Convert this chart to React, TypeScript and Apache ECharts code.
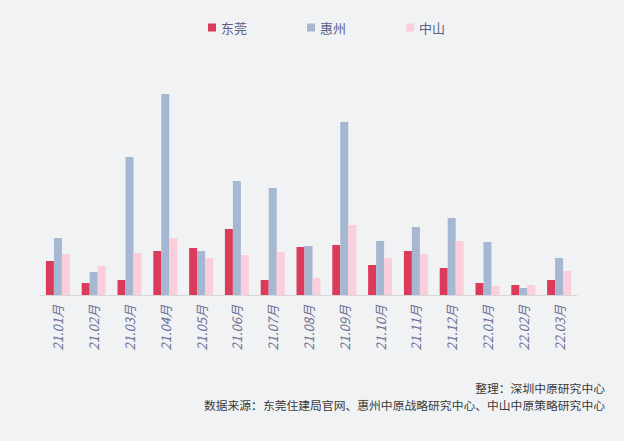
import React, { useEffect, useRef } from "react";
import * as echarts from "echarts";

const categories = ["21.01月", "21.02月", "21.03月", "21.04月", "21.05月", "21.06月", "21.07月", "21.08月", "21.09月", "21.10月", "21.11月", "21.12月", "22.01月", "22.02月", "22.03月"];
const dongguan = [34, 12, 15, 44, 47, 66, 15, 48, 50, 30, 44, 27, 12, 10, 15];
const huizhou = [57, 23, 138, 201, 44, 114, 107, 49, 173, 54, 68, 77, 53, 7, 37];
const zhongshan = [41, 29, 42, 57, 37, 40, 43, 17, 70, 37, 41, 54, 9, 10, 24];
const seriesNames = ["东莞", "惠州", "中山"];
const colors = ["#dc3a5b", "#a6b7d1", "#fbcedc"];
const noteLine1 = "整理：深圳中原研究中心";
const noteLine2 = "数据来源：东莞住建局官网、惠州中原战略研究中心、中山中原策略研究中心";

export default function App() {
  const ref = useRef<HTMLDivElement>(null);
  useEffect(() => {
    if (!ref.current) return;
    const chart = echarts.init(ref.current, null, { renderer: "svg" });
    const data = [dongguan, huizhou, zhongshan];
    chart.setOption({
      animation: false,
      backgroundColor: "#f0f2f4",
      textStyle: { fontFamily: "'Noto Sans CJK SC', 'Noto Sans', sans-serif" },
      legend: {
        top: 16,
        left: 203,
        itemWidth: 8,
        itemHeight: 8,
        itemGap: 60,
        icon: "rect",
        textStyle: { color: "#5d5f86", fontSize: 13 },
        data: seriesNames,
      },
      grid: { left: 40, right: 47, top: 85, bottom: 146, containLabel: false },
      xAxis: {
        type: "category",
        data: categories,
        axisLine: { lineStyle: { color: "#d5d7da" } },
        axisTick: { show: false },
        axisLabel: {
          rotate: 90,
          color: "#6e7097",
          fontSize: 13,
          fontStyle: "italic",
          margin: 10,
          interval: 0,
        },
      },
      yAxis: {
        type: "value",
        min: 0,
        max: 210,
        show: false,
        splitLine: { show: false },
      },
      series: seriesNames.map((name, i) => ({
        name,
        type: "bar",
        data: data[i],
        barWidth: 8,
        barGap: "0%",
        itemStyle: { color: colors[i] },
      })),
      graphic: [
        {
          type: "text",
          right: 19,
          top: 380,
          style: { text: noteLine1, fill: "#3a3a3a", fontSize: 11.8, lineHeight: 14, fontFamily: "'Noto Sans CJK SC', sans-serif" },
        },
        {
          type: "text",
          right: 19,
          top: 397,
          style: { text: noteLine2, fill: "#3a3a3a", fontSize: 11.8, lineHeight: 14, fontFamily: "'Noto Sans CJK SC', sans-serif" },
        },
      ],
    });
    return () => chart.dispose();
  }, []);
  return <div ref={ref} style={{ width: 624, height: 441, position: "absolute", left: 0, top: 0 }} />;
}
